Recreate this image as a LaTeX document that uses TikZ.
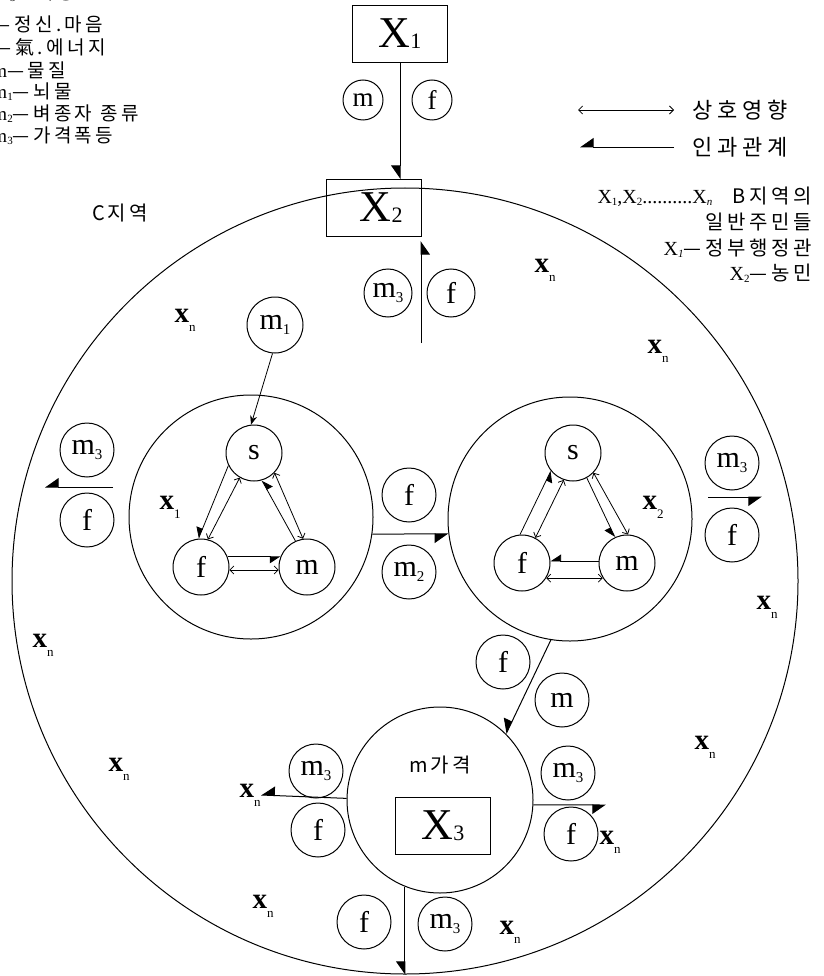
\documentclass[tikz,border=0pt]{standalone}
\usepackage{fontspec}
\setmainfont{Liberation Serif}
\newfontfamily\kr{Noto Sans CJK KR}
\usetikzlibrary{arrows.meta}
\newcommand{\lsub}[1]{\raisebox{-0.15em}{\fontsize{15}{15}\selectfont #1}}
\newcommand{\tsub}[1]{\raisebox{-0.1em}{\fontsize{11}{11}\selectfont #1}}
\newcommand{\Xsub}[1]{\raisebox{-0.02em}{\fontsize{22}{22}\selectfont #1}}
\newcommand{\xnlab}{x\raisebox{-0.3em}{\fontsize{13}{13}\selectfont\mdseries n}}
\newcommand{\lkor}[1]{{\kr\addfontfeature{LetterSpace=18}#1}}
\begin{document}
\begin{tikzpicture}[x=1pt,y=-1pt,line width=1pt,
  circ/.style={draw,circle,inner sep=0pt,minimum size=#1,font=\fontsize{30}{30}\selectfont},
  circ/.default=54,
  ring/.style={draw,circle,inner sep=0pt,minimum size=#1},
  boxn/.style={draw,rectangle,minimum width=95,minimum height=57,inner sep=0pt,font=\fontsize{44}{44}\selectfont},
  xlab/.style={inner sep=0pt,font=\fontsize{29}{29}\selectfont\bfseries},
  kor/.style={inner sep=0pt,font=\kr\fontsize{20}{20}\selectfont\addfontfeature{LetterSpace=15}},
  legl/.style={inner sep=0pt,anchor=west,font=\fontsize{19}{19}\selectfont},
  cause/.style={-{Triangle[right,length=13pt,width=18pt]}},
  scause/.style={-{Triangle[right,length=10pt,width=13pt]}},
  mutual/.style={{Straight Barb[length=4pt,width=8pt]}-{Straight Barb[length=4pt,width=8pt]}},
]
\useasboundingbox (0,0) rectangle (823,976);

% ---- big region circle
\node[ring=786] (BIG) at (405,581) {};

% ---- legend top left (cut by the page edge, as in the reference)
\node[legl] (lg1) at (-4,-7) {X\tsub{3}\lkor{—시장}};
\node[legl] (lg2) at (-14,24) {s\lkor{—정신.마음}};
\node[legl] (lg3) at (-12,47) {f\lkor{—氣.에너지}};
\node[legl] (lg4) at (-8,70) {m\lkor{—물질}};
\node[legl] (lg5) at (-8,92) {m\tsub{1}\lkor{—뇌물}};
\node[legl] (lg6) at (-8,114) {m\tsub{2}\lkor{—벼종자 종류}};
\node[legl] (lg7) at (-8,136) {m\tsub{3}\lkor{—가격폭등}};

% ---- legend top right
\node[inner sep=0pt,anchor=west,font=\kr\fontsize{22}{22}\selectfont\addfontfeature{LetterSpace=22}] (lgA) at (692,110) {상호영향};
\node[inner sep=0pt,anchor=west,font=\kr\fontsize{22}{22}\selectfont\addfontfeature{LetterSpace=22}] (lgB) at (692,147) {인과관계};
\coordinate (la) at (578,110);
\coordinate (lb) at (580,147);
\draw[mutual,line width=0.8pt] (la) -- ([xshift=-18pt]lgA.west);
\draw[cause,line width=0.8pt] ([xshift=-18pt]lgB.west) -- (lb);

% ---- right text block
\node[inner sep=0pt,anchor=east,font=\fontsize{20}{20}\selectfont] (tb1) at (812,197)
  {X\tsub{1},X\tsub{2}..........X\tsub{\itshape n}\quad\lkor{B지역의}};
\node[inner sep=0pt,anchor=east,font=\kr\fontsize{20}{20}\selectfont\addfontfeature{LetterSpace=18}] (tb2) at (812,222) {일반주민들};
\node[inner sep=0pt,anchor=east,font=\fontsize{20}{20}\selectfont] (tb3) at (812,248) {X\tsub{\itshape 1}\lkor{—정부행정관}};
\node[inner sep=0pt,anchor=east,font=\fontsize{20}{20}\selectfont] (tb4) at (812,273) {X\tsub{2}\lkor{—농민}};

% ---- top boxes
\node[boxn] (X1) at (400,34) {X\Xsub{1}};
\node[boxn] (X2) at (374,208) {\,\,X\Xsub{2}};
\node[circ=40,font=\fontsize{27}{27}\selectfont] (tm) at (363,100) {m};
\node[circ=40,font=\fontsize{27}{27}\selectfont] (tf) at (432,100) {f};
\draw[cause] (X1.south) -- (X1.south |- X2.north);

\node[circ=48] (um3) at (388,293) {m\lsub{3}};
\node[circ=48] (uf) at (451,293) {f};
\coordinate (ua) at (421,343);
\draw[cause,shorten >=4pt] (ua) -- (ua |- X2.south);

\node[kor] (Cr) at (120,213) {C지역};

% ---- x_n labels
\node[xlab] (xa) at (185,320) {\xnlab};
\node[xlab] (xb) at (545,270) {\xnlab};
\node[xlab] (xc) at (658,351) {\xnlab};
\node[xlab] (xd) at (43,645) {\xnlab};
\node[xlab] (xe) at (767,607) {\xnlab};
\node[xlab] (xf) at (705,747) {\xnlab};
\node[xlab] (xg) at (119,769) {\xnlab};
\node[xlab] (xh) at (263,906) {\xnlab};
\node[xlab] (xi) at (510,932) {\xnlab};
\node[xlab] (xj) at (610,842) {\xnlab};
\node[xlab] (xk) at (250,795) {\xnlab};

% ---- m1
\node[circ=56] (m1) at (275,325) {m\lsub{1}};

% ---- left cluster
\node[ring=244] (L) at (251,517) {};
\node[circ=56] (Ls) at (254,453) {s};
\node[circ=56] (Lf) at (201,567) {f};
\node[circ=56] (Lm) at (307,567) {m};
\node[xlab] (Lx) at (170,507) {x\raisebox{-0.3em}{\fontsize{13}{13}\selectfont\mdseries 1}};
\draw[-{Stealth[length=9pt,width=7pt]},line width=0.8pt] (m1.265) -- (Ls.96);
\draw[scause,line width=0.8pt] (Ls.206) -- (Lf.95);
\draw[mutual,line width=0.8pt] (Ls.240) -- (Lf.76);
\draw[scause,line width=0.8pt] (Lm.114) -- (Ls.286);
\draw[mutual,line width=0.8pt] (Ls.316) -- (Lm.98);
\draw[scause,line width=0.8pt] (Lf.21) -- (Lm.159);
\draw[mutual,line width=0.8pt] (Lf.-6) -- (Lm.186);

% ---- right cluster
\node[ring=244] (R) at (570,519) {};
\node[circ=56] (Rs) at (573,453) {s};
\node[circ=56] (Rf) at (522,563) {f};
\node[circ=56] (Rm) at (627,563) {m};
\node[xlab] (Rx) at (653,507) {x\raisebox{-0.3em}{\fontsize{13}{13}\selectfont\mdseries 2}};
\draw[scause,line width=0.8pt] (Rf.94) -- (Rs.219);
\draw[mutual,line width=0.8pt] (Rs.251) -- (Rf.62);
\draw[scause,line width=0.8pt] (Rs.299) -- (Rm.115);
\draw[mutual,line width=0.8pt] (Rs.316) -- (Rm.88);
\draw[scause,line width=0.8pt] (Rm.176) -- (Rf.4);
\draw[mutual,line width=0.8pt] (Rf.-32) -- (Rm.212);

% ---- between clusters
\node[circ] (cf) at (409,495) {f};
\node[circ] (cm2) at (409,572) {m\lsub{2}};
\draw[cause] (L.-8.5) -- (R.187.5);

% ---- left side
\node[circ] (lm3) at (87,450) {m\lsub{3}};
\node[circ] (lf) at (87,520) {f};
\coordinate (l1) at (113,487);
\coordinate (l2) at (45,487);
\draw[cause] (l1) -- (l2);

% ---- right side
\node[circ] (rm3) at (732,463) {m\lsub{3}};
\node[circ] (rf) at (732,535) {f};
\coordinate (r1) at (708,497);
\coordinate (r2) at (762,497);
\draw[cause] (r1) -- (r2);

% ---- market circle
\node[ring=186] (MG) at (440,800) {};
\node[kor] (MGt) at (440,765) {m가격};
\node[boxn] (X3) at (443,826) {X\Xsub{3}};
\node[circ] (df) at (503,662) {f};
\node[circ] (dm) at (562,700) {m};
\draw[cause] (R.261) -- (MG.45);

\node[circ] (bm3l) at (316,771) {m\lsub{3}};
\node[circ] (bfl) at (318,830) {f};
\draw[cause] (MG.179) -- (xk.east);

\node[circ] (bm3r) at (568,773) {m\lsub{3}};
\node[circ] (bfr) at (571,834) {f};
\coordinate (rr) at (606,805);
\draw[cause] (MG.-3) -- (rr);

\node[circ] (bfb) at (364,922) {f};
\node[circ] (bm3b) at (445,924) {m\lsub{3}};
\coordinate (bb) at (405,975);
\draw[cause] (MG.248) -- (MG.248 |- bb);
\end{tikzpicture}
\end{document}
